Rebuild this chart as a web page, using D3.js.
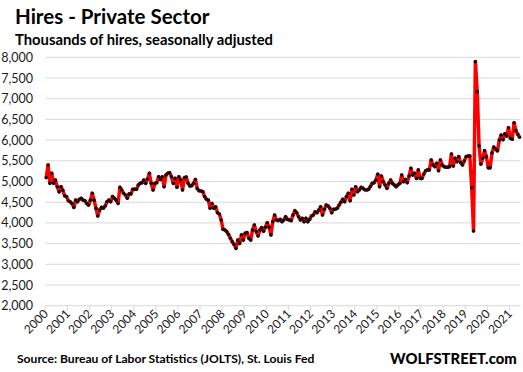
<!DOCTYPE html>
<html>
<head>
<meta charset="utf-8">
<script src="https://cdn.jsdelivr.net/npm/d3@7"></script>
<style>
  body { margin: 0; background: #fff; }
  svg { display: block; font-family: Lato, "Open Sans", sans-serif; }
</style>
</head>
<body>
<div id="chart"></div>
<script>
// monthly hires, thousands, starting Dec 2000
const hires2000 = [5090];
const hires2001 = [5400, 4955, 5200, 4960, 5035, 4875, 4750, 4875, 4790, 4655, 4635, 4535];
const hires2002 = [4510, 4470, 4375, 4550, 4510, 4570, 4595, 4550, 4535, 4470, 4430, 4550];
const hires2003 = [4715, 4550, 4355, 4165, 4310, 4375, 4355, 4410, 4510, 4550, 4510, 4635];
const hires2004 = [4595, 4550, 4470, 4860, 4795, 4715, 4675, 4595, 4700, 4700, 4810, 4810];
const hires2005 = [4810, 4915, 4955, 4970, 5035, 4955, 5060, 5200, 4955, 4795, 4955, 4970];
const hires2006 = [5115, 5050, 5115, 4875, 5155, 5200, 5210, 5115, 4955, 5075, 4860, 5115];
const hires2007 = [5040, 4795, 5090, 5110, 4960, 4890, 4900, 4955, 5050, 4830, 4775, 4770];
const hires2008 = [4755, 4635, 4570, 4550, 4355, 4470, 4355, 4390, 4245, 4215, 4070, 3845];
const hires2009 = [3830, 3790, 3720, 3630, 3545, 3480, 3385, 3585, 3505, 3710, 3585, 3750];
const hires2010 = [3765, 3630, 3585, 3830, 3950, 3790, 3685, 3830, 3885, 3800, 3895, 4005];
const hires2011 = [3895, 3710, 4030, 4190, 4070, 4055, 4085, 4030, 4070, 4150, 4085, 4070];
const hires2012 = [4055, 4190, 4295, 4245, 4150, 4070, 4110, 4030, 4110, 4030, 4085, 4165];
const hires2013 = [4190, 4270, 4245, 4310, 4390, 4190, 4330, 4430, 4410, 4355, 4245, 4330];
const hires2014 = [4330, 4355, 4430, 4500, 4570, 4510, 4635, 4715, 4535, 4810, 4675, 4875];
const hires2015 = [4755, 4795, 4860, 4835, 4800, 4795, 4810, 4880, 4955, 4970, 5035, 5175];
const hires2016 = [4875, 5130, 4995, 4915, 4835, 4955, 5035, 4955, 4915, 4875, 4920, 4955];
const hires2017 = [5155, 4995, 5050, 4970, 5130, 5320, 5155, 5200, 5075, 5280, 5075, 5075];
const hires2018 = [5180, 5260, 5280, 5280, 5520, 5400, 5360, 5440, 5260, 5520, 5400, 5360];
const hires2019 = [5345, 5345, 5360, 5665, 5375, 5560, 5480, 5600, 5455, 5400, 5495, 5600];
const hires2020 = [5615, 5615, 4850, 3805, 7895, 7170, 5860, 5420, 5560, 5745, 5600, 5330];
const hires2021 = [5330, 5690, 5830, 5780, 5740, 6000, 6120, 6010, 6150, 6100, 6300, 6045];
const hires2022 = [6020, 6420, 6230, 6140, 6070];

const hires = [].concat(hires2000, hires2001, hires2002, hires2003, hires2004, hires2005,
    hires2006, hires2007, hires2008, hires2009, hires2010, hires2011, hires2012, hires2013,
    hires2014, hires2015, hires2016, hires2017, hires2018, hires2019, hires2020, hires2021, hires2022);

const yearLabels = ['2000','2001','2002','2003','2004','2005','2006','2007','2008','2009','2010',
    '2011','2012','2013','2014','2015','2016','2017','2018','2019','2020','2021'];
const yTicks = [2000, 2500, 3000, 3500, 4000, 4500, 5000, 5500, 6000, 6500, 7000, 7500, 8000];

const width = 523, height = 372;
const plot_left = 45.3, plot_right = 520.5, plot_top = 57.3, plot_bottom = 305.7;

let svg = d3.select('#chart').append('svg')
    .attr('width', width)
    .attr('height', height);

let x = d3.scaleLinear().domain([0, hires.length]).range([plot_left, plot_right]);
let y = d3.scaleLinear().domain([2000, 8000]).range([plot_bottom, plot_top]);

// gridlines
svg.append('g').selectAll('line')
    .data(yTicks)
    .join('line')
    .attr('x1', plot_left)
    .attr('x2', plot_right)
    .attr('y1', d => y(d))
    .attr('y2', d => y(d))
    .style('stroke', '#d9d9d9')
    .style('stroke-width', 1);

// y labels
svg.append('g').selectAll('text')
    .data(yTicks)
    .join('text')
    .attr('x', 33)
    .attr('y', d => y(d) + 4.5)
    .style('text-anchor', 'end')
    .style('font-size', '12.5px')
    .style('fill', '#1a1a1a')
    .text(d => d3.format(',')(d));

// x ticks, one every 12 months
svg.append('g').selectAll('line')
    .data(yearLabels)
    .join('line')
    .attr('x1', (d, i) => x(i * 12))
    .attr('x2', (d, i) => x(i * 12))
    .attr('y1', plot_bottom)
    .attr('y2', plot_bottom + 5)
    .style('stroke', '#d9d9d9');

svg.append('g').selectAll('text')
    .data(yearLabels)
    .join('text')
    .attr('transform', (d, i) => 'translate(' + (x(i * 12) + 3.5) + ',' + (plot_bottom + 9) + ') rotate(-45)')
    .style('text-anchor', 'end')
    .style('font-size', '12px')
    .style('fill', '#1a1a1a')
    .text(d => d);

// the line
let line = d3.line()
    .x((d, i) => x(i + 0.5))
    .y(d => y(d));

svg.append('path')
    .datum(hires)
    .attr('d', line)
    .style('fill', 'none')
    .style('stroke', '#ff0000')
    .style('stroke-width', 3.5)
    .style('stroke-linejoin', 'round');

svg.append('g').selectAll('circle')
    .data(hires)
    .join('circle')
    .attr('cx', (d, i) => x(i + 0.5))
    .attr('cy', d => y(d))
    .attr('r', 1.8)
    .style('fill', '#111');

// titles
svg.append('text')
    .attr('x', 15)
    .attr('y', 24)
    .style('font-size', '20.5px')
    .style('font-weight', 'bold')
    .style('fill', '#000')
    .text('Hires - Private Sector');

svg.append('text')
    .attr('x', 15)
    .attr('y', 44.5)
    .style('font-size', '14.8px')
    .style('font-weight', 'bold')
    .style('fill', '#000')
    .text('Thousands of hires, seasonally adjusted');

svg.append('text')
    .attr('x', 17)
    .attr('y', 363)
    .style('font-size', '12.1px')
    .style('font-weight', 'bold')
    .style('fill', '#000')
    .text('Source: Bureau of Labor Statistics (JOLTS), St. Louis Fed');

svg.append('text')
    .attr('x', 390)
    .attr('y', 363.5)
    .style('font-size', '14.8px')
    .style('font-weight', '900')
    .style('fill', '#000')
    .text('WOLFSTREET.com');
</script>
</body>
</html>
